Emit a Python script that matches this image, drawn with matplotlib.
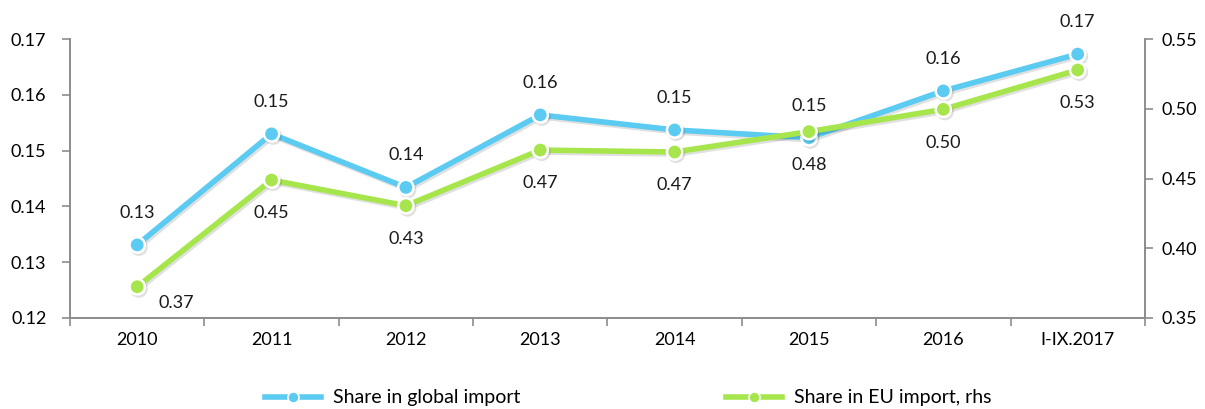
import matplotlib.pyplot as plt
import matplotlib.patheffects as pe
from matplotlib.lines import Line2D
import numpy as np

plt.rcParams["font.family"] = ["Lato", "DejaVu Sans"]

years = ["2010", "2011", "2012", "2013", "2014", "2015", "2016", "I-IX.2017"]
global_share = [0.1331, 0.1530, 0.1434, 0.1564, 0.1537, 0.1523, 0.1607, 0.1673]
eu_share = [0.3724, 0.4489, 0.4305, 0.4704, 0.4690, 0.4836, 0.4996, 0.5278]

BLUE = "#5BCBF2"
GREEN = "#A6E64C"
AXC = "#8C8C8C"
FS = 13

fig = plt.figure(figsize=(12.05, 4.09), dpi=100)
ax = fig.add_axes([0.0581, 0.2225, 0.892, 0.6821])
ax2 = ax.twinx()

x = np.arange(len(years))
shadow = [pe.SimpleLineShadow(offset=(1.2, -1.5), alpha=0.12, rho=0.5), pe.Normal()]

ax.plot(x, global_share, color=BLUE, lw=4, marker="o", ms=11, mfc=BLUE,
        mec="white", mew=1.8, zorder=3, path_effects=shadow)
ax2.plot(x, eu_share, color=GREEN, lw=4, marker="o", ms=11, mfc=GREEN,
         mec="white", mew=1.8, zorder=3, path_effects=shadow)

for i, v in enumerate(global_share):
    ax.annotate(f"{v:.2f}", (x[i], v), xytext=(0, 23), textcoords="offset points",
                ha="center", va="center", fontsize=FS, color="#1a1a1a")
for i, v in enumerate(eu_share):
    dx = 28 if i == 0 else 0
    dy = -12 if i == 0 else -24
    ax2.annotate(f"{v:.2f}", (x[i], v), xytext=(dx, dy), textcoords="offset points",
                 ha="center", va="center", fontsize=FS, color="#1a1a1a")

ax.set_xlim(-0.5, len(years) - 0.5)
ax.set_ylim(0.12, 0.17)
ax2.set_ylim(0.35, 0.55)
left_ticks = np.arange(0.12, 0.1701, 0.01)
right_ticks = np.arange(0.35, 0.5501, 0.05)
ax.set_yticks(left_ticks)
ax2.set_yticks(right_ticks)
ax.set_yticklabels([f"{t:.2f}" for t in left_ticks])
ax2.set_yticklabels([f"{t:.2f}" for t in right_ticks])

ax.set_xticks(x)
ax.set_xticklabels(years)
ax.set_xticks(np.arange(-0.5, len(years)), minor=True)
ax.tick_params(axis="x", which="major", length=0, pad=10, labelsize=FS)
ax.tick_params(axis="x", which="minor", length=6, color=AXC, width=1.2)
ax.tick_params(axis="y", length=6, color=AXC, width=1.2, labelsize=FS, pad=11)
ax2.tick_params(axis="y", length=6, color=AXC, width=1.2, labelsize=FS, pad=6)

for a in (ax, ax2):
    a.spines["top"].set_visible(False)
    for s in ("left", "right", "bottom"):
        a.spines[s].set_color(AXC)
        a.spines[s].set_linewidth(1.2)

handles = [
    Line2D([], [], color=BLUE, lw=4, marker="o", ms=8, mfc=BLUE, mec="white", mew=1.2),
    Line2D([], [], color=GREEN, lw=4, marker="o", ms=8, mfc=GREEN, mec="white", mew=1.2),
]
fig.legend(handles, ["Share in global import", "Share in EU import, rhs"],
           loc="center left", bbox_to_anchor=(0.205, 0.027), ncol=2, frameon=False,
           fontsize=14, handlelength=2.9, handletextpad=0.6, columnspacing=10.6)

fig.savefig("out.png", dpi=100)
